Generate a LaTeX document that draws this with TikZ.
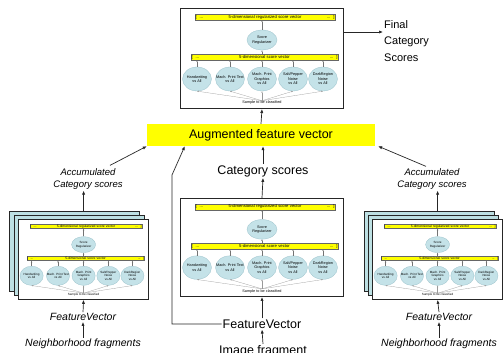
\documentclass[tikz,border=0pt]{standalone}
\usepackage{fontspec}
\setmainfont{Liberation Sans}
\usetikzlibrary{arrows.meta,calc,shapes.geometric}
\definecolor{ellfill}{HTML}{C4E2E8}
\definecolor{ellline}{HTML}{9CC3CC}
\definecolor{stackfill}{HTML}{BDE0E3}
\definecolor{yel}{HTML}{FFFF00}
\tikzset{
 arr/.style={-{Latex[length=4pt,width=3.2pt]}, line width=0.7pt, draw=black!85},
 frm/.style={draw=black!85, line width=1pt, fill=white, inner sep=0pt, anchor=north west},
 sfrm/.style={draw=black!85, line width=0.8pt, fill=stackfill, inner sep=0pt, anchor=north west, minimum width=130pt, minimum height=80pt},
 tinytxt/.style={font=\fontsize{3.8}{4.4}\selectfont, inner sep=0.3pt, align=center},
 ibar/.style={font=\fontsize{4.2}{5}\selectfont, fill=yel, draw=black!60, line width=0.25pt, minimum height=6pt, inner sep=0.5pt},
 iell/.style={ellipse, fill=ellfill, draw=ellline, line width=0.3pt, minimum width=29pt, minimum height=24pt, inner sep=0pt},
 iarr/.style={-{Latex[length=1.6pt,width=1.4pt]}, line width=0.3pt, draw=black!55},
 iline/.style={-{Latex[length=1.6pt,width=1.4pt]}, line width=0.25pt, draw=black!40},
 bigtxt/.style={font=\fontsize{12.5}{14}\selectfont, inner sep=1pt},
 acctxt/.style={font=\fontsize{9.5}{12}\selectfont\itshape, align=center, inner sep=1pt},
 ittxt/.style={font=\fontsize{10.5}{12}\selectfont\itshape, inner sep=1pt},
}
\newcommand\clfdiag[5]{%
 \begin{scope}[shift={(#2,#3)}, xscale=#4, yscale=#5, transform shape]
  \node[frm, minimum width=163pt, minimum height=100pt] (#1) at (0,0) {};
  \node[ibar, text width=139pt] (#1b1) at (85,9) {\noindent[\hspace{3pt}...\hfill 5-dimensional regularized score vector\hfill ...\hspace{3pt}]};
  \node[iell, minimum width=30pt, minimum height=20pt] (#1r) at (82,32) {};
  \node[tinytxt] (#1rt) at (#1r) {Score\\Regularizer};
  \node[ibar, text width=146pt] (#1b2) at (84.5,49) {\noindent[\hspace{3pt}...\hfill 5-dimensional score vector\hfill ...\hspace{3pt}]};
  \node[iell] (#1e1) at (17,71) {};
  \node[iell] (#1e2) at (50,71) {};
  \node[iell] (#1e3) at (82,71) {};
  \node[iell] (#1e4) at (113,71) {};
  \node[iell] (#1e5) at (143,71) {};
  \node[tinytxt] (#1t1) at (#1e1) {Handwriting\\vs All};
  \node[tinytxt] (#1t2) at (#1e2) {Mach. Print Text\\vs All};
  \node[tinytxt] (#1t3) at (#1e3) {Mach. Print\\Graphics\\vs All};
  \node[tinytxt] (#1t4) at (#1e4) {Salt/Pepper\\Noise\\vs All};
  \node[tinytxt] (#1t5) at (#1e5) {DarkRegion\\Noise\\vs All};
  \node[tinytxt] (#1s) at (82,95) {Sample to be classified};
  \foreach \k in {1,...,5}{
   \draw[iline] (#1s.north) -- (#1e\k.south);
   \draw[iarr] (#1e\k.north) -- (#1e\k.north |- #1b2.south);
  }
  \draw[iarr] (#1r.south |- #1b2.north) -- (#1r.south);
  \draw[iarr] (#1r.north) -- (#1r.north |- #1b1.south);
 \end{scope}}
\begin{document}
\begin{tikzpicture}[x=1pt,y=-1pt]
\useasboundingbox (0,0) rectangle (504,353);
\fill[white] (0,0) rectangle (504,353);

% top and centre classifiers
\clfdiag{T}{180}{8}{1}{1}
\clfdiag{C}{180}{198}{1}{0.98}

% left stack
\node[sfrm] (L3) at (9,211) {};
\node[sfrm] (L2) at (13.5,215) {};
\clfdiag{L}{18}{219}{0.8}{0.8}
% right stack
\node[sfrm] (R3) at (364,211) {};
\node[sfrm] (R2) at (368,215) {};
\clfdiag{R}{372}{219}{0.8}{0.8}

% texts
\node[bigtxt, fill=yel, minimum width=228pt, minimum height=22pt] (A) at (261,135) {Augmented feature vector};
\node[bigtxt] (CS) at (263,171) {Category scores};
\node[acctxt] (LA) at (88,179) {Accumulated\\Category scores};
\node[acctxt] (RA) at (432,179) {Accumulated\\Category scores};
\node[bigtxt] (FV) at (262,324) {FeatureVector};
\node[bigtxt] (IF) at (263,351) {Image fragment};
\node[ittxt] (LF) at (83,317) {FeatureVector};
\node[ittxt] (LN) at (83,344) {Neighborhood fragments};
\node[ittxt] (RF) at (439,317) {FeatureVector};
\node[ittxt] (RN) at (439,344) {Neighborhood fragments};
\node[font=\fontsize{11}{16.5}\selectfont, align=left, anchor=north west, inner sep=1pt] (F) at (383,19) {Final\\Category\\Scores};

% connectors
\coordinate (fa) at ($(T.north east)+(0,24)$);
\draw[arr] (fa) -- (F.west |- fa);
\draw[arr] (A.north) -- (T.south);
\draw[arr] (CS.north) -- (CS.north |- A.south);
\draw[arr] (C.north) -- (CS.south);
\draw[arr] (FV.north) -- (C.south);
\draw[arr] (IF.north) -- (FV.south);
\coordinate (k1) at (172,175);
\coordinate (k2) at ($(A.south west)+(38,0)$);
\draw[arr] (FV.west) -| (k1) -- (k2);
\draw[arr] ($(LA.north)+(22,-2)$) -- (A.south west);
\draw[arr] ($(RA.north)+(-6,-1)$) -- ($(A.south east)+(3,0)$);
\draw[arr] (L3.north -| L.south) -- (LA.south -| L.south);
\draw[arr] (R3.north -| R.south) -- (RA.south -| R.south);
\draw[arr] (LN.north) -- (LF.south);
\draw[arr] (LF.north) -- (L.south);
\draw[arr] (RN.north) -- (RF.south);
\draw[arr] (RF.north) -- (R.south);
\end{tikzpicture}
\end{document}
